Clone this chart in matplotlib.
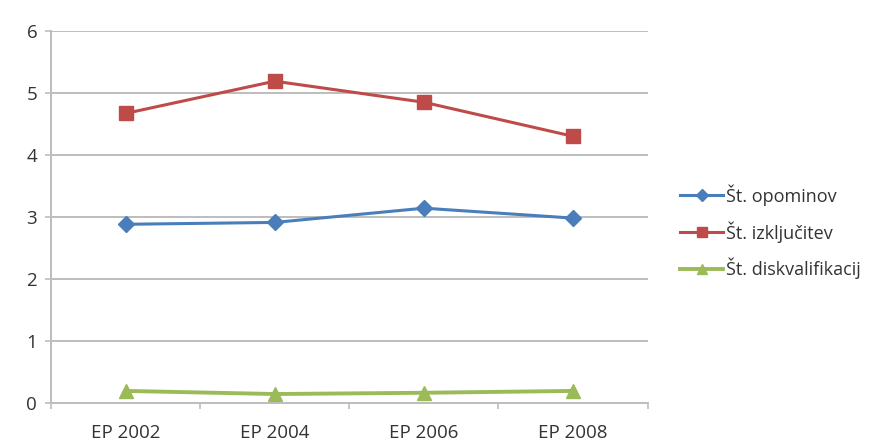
import matplotlib
matplotlib.use("Agg")
import matplotlib.pyplot as plt

# Povprečno število kazni na tekmo po prvenstvih
categories = ["EP 2002", "EP 2004", "EP 2006", "EP 2008"]
opominov = [2.88, 2.91, 3.14, 2.98]
izkljucitev = [4.67, 5.19, 4.85, 4.30]
diskvalifikacij = [0.19, 0.14, 0.16, 0.19]

plt.rcParams["font.family"] = ["Open Sans", "DejaVu Sans"]
TEXT = "#333333"

fig = plt.figure(figsize=(8.74, 4.4), dpi=100)
ax = fig.add_axes([0.0584, 0.0848, 0.6826, 0.8447])

x = range(len(categories))
ax.plot(x, opominov, color="#4A7EBB", lw=2.2, marker="D", ms=8,
        label="Št. opominov")
ax.plot(x, izkljucitev, color="#BE4B48", lw=2.2, marker="s", ms=9.5,
        label="Št. izključitev")
ax.plot(x, diskvalifikacij, color="#9BBB59", lw=2.8, marker="^", ms=10,
        label="Št. diskvalifikacij")

ax.set_xlim(-0.5, 3.5)
ax.set_ylim(0, 6)
ax.set_yticks(range(7))
ax.set_xticks(list(x))
ax.set_xticklabels(categories)
ax.set_xticks([-0.5, 0.5, 1.5, 2.5, 3.5], minor=True)

ax.grid(axis="y", color="#BDBDBD", lw=1.4)
ax.set_axisbelow(True)
for side in ("top", "right"):
    ax.spines[side].set_visible(False)
for side in ("left", "bottom"):
    ax.spines[side].set_color("#BDBDBD")
    ax.spines[side].set_linewidth(1.4)

ax.tick_params(axis="y", length=4, width=1.2, color="#BDBDBD",
               labelsize=13.5, labelcolor=TEXT, pad=6)
ax.tick_params(axis="x", which="major", length=0, labelsize=13.5,
               labelcolor=TEXT, pad=15)
ax.tick_params(axis="x", which="minor", length=4, width=1.2,
               color="#BDBDBD")

ax.legend(loc="center left", bbox_to_anchor=(0.778, 0.473),
          bbox_transform=fig.transFigure, frameon=False, fontsize=13,
          handlelength=2.4, handletextpad=0.15, labelspacing=0.85,
          borderpad=0, borderaxespad=0, markerscale=0.75,
          labelcolor=TEXT)

fig.savefig("out.png", dpi=100)
